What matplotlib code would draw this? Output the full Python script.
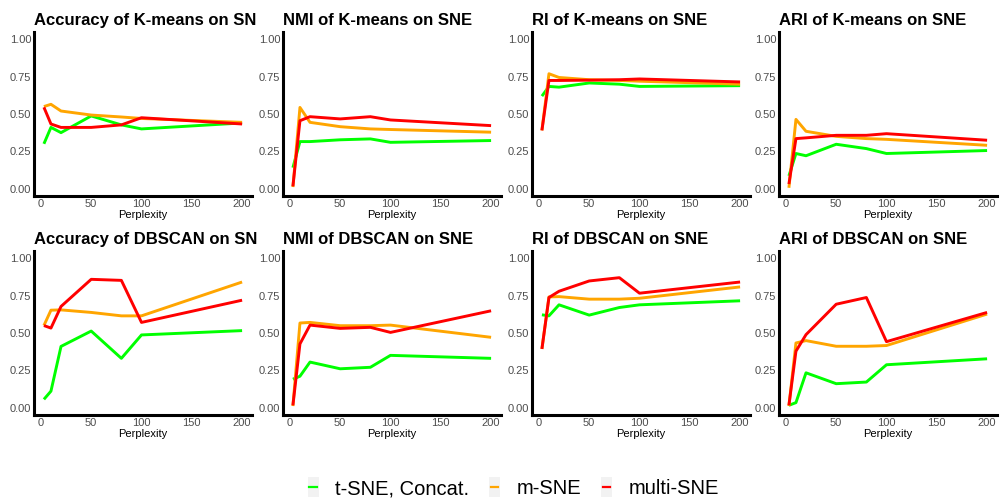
import matplotlib
matplotlib.use("Agg")
import matplotlib.pyplot as plt
from matplotlib.patches import Rectangle
from matplotlib.lines import Line2D
from matplotlib.legend_handler import HandlerBase
from matplotlib.transforms import Bbox, TransformedBbox

plt.rcParams['font.family'] = ['Liberation Sans', 'DejaVu Sans']

perplexity = [3, 10, 20, 50, 80, 100, 200]
methods = ['t-SNE, Concat.', 'm-SNE', 'multi-SNE']
colors = ['#00FF00', '#FFA500', '#FF0000']

# K-means
acc_km_tsne = [0.30, 0.41, 0.375, 0.487, 0.427, 0.40, 0.44]
acc_km_msne = [0.55, 0.565, 0.52, 0.493, 0.48, 0.47, 0.444]
acc_km_multi = [0.545, 0.433, 0.41, 0.41, 0.427, 0.475, 0.433]

nmi_km_tsne = [0.14, 0.315, 0.315, 0.327, 0.333, 0.31, 0.322]
nmi_km_msne = [0.01, 0.544, 0.444, 0.415, 0.40, 0.396, 0.378]
nmi_km_multi = [0.015, 0.455, 0.482, 0.467, 0.482, 0.46, 0.422]

ri_km_tsne = [0.62, 0.685, 0.68, 0.708, 0.70, 0.685, 0.69]
ri_km_msne = [0.39, 0.77, 0.745, 0.73, 0.725, 0.72, 0.70]
ri_km_multi = [0.39, 0.725, 0.725, 0.727, 0.73, 0.735, 0.715]

ari_km_tsne = [0.085, 0.235, 0.22, 0.297, 0.268, 0.235, 0.255]
ari_km_msne = [0.005, 0.464, 0.384, 0.35, 0.335, 0.33, 0.29]
ari_km_multi = [0.03, 0.335, 0.34, 0.357, 0.357, 0.368, 0.324]

# DBSCAN
acc_db_tsne = [0.055, 0.11, 0.41, 0.513, 0.33, 0.487, 0.516]
acc_db_msne = [0.55, 0.653, 0.655, 0.638, 0.615, 0.615, 0.842]
acc_db_multi = [0.55, 0.533, 0.678, 0.86, 0.853, 0.571, 0.72]

nmi_db_tsne = [0.19, 0.21, 0.305, 0.26, 0.27, 0.35, 0.33]
nmi_db_msne = [0.01, 0.567, 0.571, 0.549, 0.549, 0.553, 0.471]
nmi_db_multi = [0.015, 0.427, 0.553, 0.531, 0.538, 0.504, 0.649]

ri_db_tsne = [0.622, 0.615, 0.689, 0.62, 0.671, 0.689, 0.716]
ri_db_msne = [0.393, 0.742, 0.744, 0.727, 0.727, 0.733, 0.809]
ri_db_multi = [0.393, 0.738, 0.78, 0.849, 0.871, 0.767, 0.842]

ari_db_tsne = [0.015, 0.033, 0.233, 0.16, 0.171, 0.287, 0.327]
ari_db_msne = [0.01, 0.433, 0.449, 0.411, 0.411, 0.416, 0.627]
ari_db_multi = [0.015, 0.378, 0.489, 0.693, 0.738, 0.442, 0.638]

titles = [
    ['Accuracy of K-means on SNE', 'NMI of K-means on SNE', 'RI of K-means on SNE', 'ARI of K-means on SNE'],
    ['Accuracy of DBSCAN on SNE', 'NMI of DBSCAN on SNE', 'RI of DBSCAN on SNE', 'ARI of DBSCAN on SNE'],
]
series = [
    [(acc_km_tsne, acc_km_msne, acc_km_multi), (nmi_km_tsne, nmi_km_msne, nmi_km_multi),
     (ri_km_tsne, ri_km_msne, ri_km_multi), (ari_km_tsne, ari_km_msne, ari_km_multi)],
    [(acc_db_tsne, acc_db_msne, acc_db_multi), (nmi_db_tsne, nmi_db_msne, nmi_db_multi),
     (ri_db_tsne, ri_db_msne, ri_db_multi), (ari_db_tsne, ari_db_msne, ari_db_multi)],
]

W, H = 1004, 504
fig = plt.figure(figsize=(W / 100, H / 100), dpi=100)

lefts = [34, 283, 532, 779]      # spine x in px
tops = [32, 251]                 # axes top in px
aw, ah = 218, 164
clip_right = [257, 506, 753, W]

for r in range(2):
    for c in range(4):
        ax = fig.add_axes([lefts[c] / W, 1 - (tops[r] + ah) / H, aw / W, ah / H])
        for vals, col, lab in zip(series[r][c], colors, methods):
            ax.plot(perplexity, vals, color=col, lw=2.1, label=lab, solid_capstyle='butt')
        ax.set_xlim(3 - 0.05 * 197, 200 + 0.05 * 197)
        ax.set_ylim(-0.05, 1.05)
        ax.set_xticks([0, 50, 100, 150, 200])
        ax.set_yticks([0, 0.25, 0.5, 0.75, 1.0])
        ax.set_yticklabels(['0.00', '0.25', '0.50', '0.75', '1.00'])
        ax.tick_params(length=0, labelsize=8, labelcolor='#4D4D4D', pad=2)
        for s in ['top', 'right']:
            ax.spines[s].set_visible(False)
        for s in ['left', 'bottom']:
            ax.spines[s].set_linewidth(2.2)
            ax.spines[s].set_color('black')
        ax.set_xlabel('Perplexity', fontsize=8, labelpad=1)
        t = ax.set_title(titles[r][c], loc='left', fontsize=12, fontweight='bold', pad=5)
        x0 = lefts[c] - 30
        box = Bbox([[x0 / W, 0], [clip_right[c] / W, 1]])
        t.set_clip_box(TransformedBbox(box, fig.transFigure))
        t.set_clip_on(True)


class KeyHandler(HandlerBase):
    def create_artists(self, legend, orig_handle, xdescent, ydescent, width, height, fontsize, trans):
        cx = width / 2 - xdescent
        cy = height / 2 - ydescent
        bg = Rectangle((cx - 4, cy - 7.2), 8, 14.4, facecolor='#F2F2F2', edgecolor='none', transform=trans)
        ln = Line2D([cx - 2.6, cx + 2.6], [cy, cy], color=orig_handle.get_color(), lw=1.6, transform=trans)
        return [bg, ln]


handles = [Line2D([], [], color=col) for col in colors]
fig.legend(handles, methods, loc='center', bbox_to_anchor=(0.511, 0.03), ncol=3, frameon=False,
           fontsize=14.5, handlelength=0.6, handletextpad=0.8, columnspacing=0.95,
           handler_map={Line2D: KeyHandler()})

fig.savefig('out.png', dpi=100)
